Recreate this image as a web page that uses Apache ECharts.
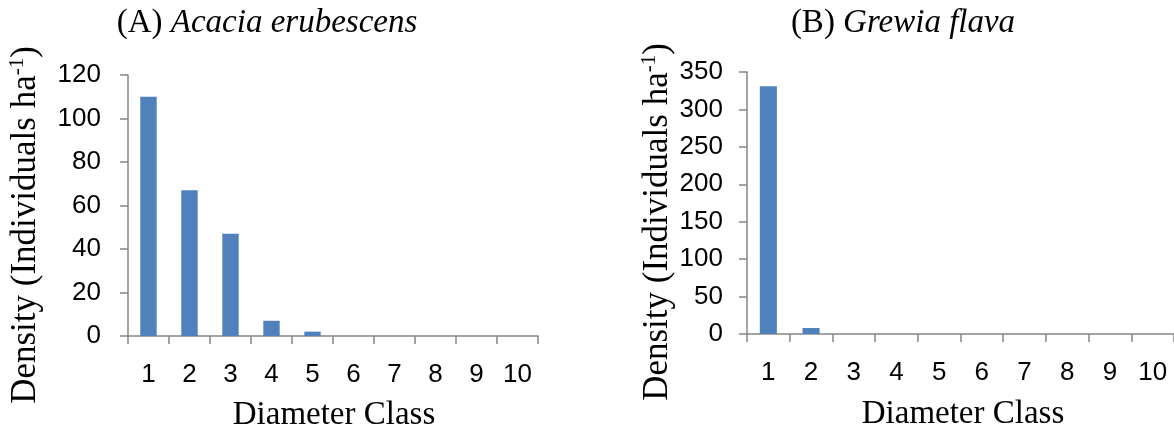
<!DOCTYPE html>
<html>
<head>
<meta charset="utf-8">
<script src="https://cdn.jsdelivr.net/npm/echarts@6/dist/echarts.min.js"></script>
<style>
html,body{margin:0;padding:0;background:#fff;}
#c{width:1174px;height:431px;}
</style>
</head>
<body>
<div id="c"></div>
<script>
const categories = ['1','2','3','4','5','6','7','8','9','10'];
const acaciaValues = [110, 67, 47, 7, 2, 0, 0, 0, 0, 0];
const grewiaValues = [331, 8, 0, 0, 0, 0, 0, 0, 0, 0];
const acaciaTicks = {min: 0, max: 120, interval: 20};
const grewiaTicks = {min: 0, max: 350, interval: 50};
const titleA = ['(A) ', 'Acacia erubescens'];
const titleB = ['(B) ', 'Grewia flava'];
const yName = ['Density (Individuals ha', '-1', ')'];
const xName = 'Diameter Class';

const serif = "'Liberation Serif', 'Times New Roman', serif";
const sans = "'Liberation Sans Narrow', 'Liberation Sans', sans-serif";
const axisGray = '#868686';
const barColor = '#4F81BD';

const chart = echarts.init(document.getElementById('c'), null, {renderer: 'canvas'});

function xAxisCfg(gridIndex) {
  return {
    type: 'category', gridIndex, data: categories, boundaryGap: true,
    axisLine: {lineStyle: {color: axisGray, width: 1.5}},
    axisTick: {show: true, length: 8, lineStyle: {color: axisGray, width: 1.5}},
    axisLabel: {color: '#000', fontFamily: sans, fontSize: 26, margin: 26, interval: 0}
  };
}
function yAxisCfg(gridIndex, t, margin) {
  return {
    type: 'value', gridIndex, min: t.min, max: t.max, interval: t.interval,
    axisLine: {show: true, lineStyle: {color: axisGray, width: 1.5}},
    axisTick: {show: true, length: 8, lineStyle: {color: axisGray, width: 1.5}},
    splitLine: {show: false},
    axisLabel: {color: '#000', fontFamily: sans, fontSize: 26, margin}
  };
}
const richSerif = {
  r: {fontFamily: serif, fontSize: 33, color: '#000'},
  i: {fontFamily: serif, fontSize: 33, fontStyle: 'italic', color: '#000'},
  y: {fontFamily: serif, fontSize: 35, color: '#000'},
  s: {fontFamily: serif, fontSize: 21, color: '#000', padding: [0, 0, 17, 0]}
};
function txt(x, y, text, rot) {
  return {
    type: 'text', x, y, rotation: rot || 0,
    style: {text, rich: richSerif, align: 'center', verticalAlign: 'middle', fill: '#000'}
  };
}
const yNameText = '{y|' + yName[0] + '}{s|' + yName[1] + '}{y|' + yName[2] + '}';

chart.setOption({
  animation: false,
  grid: [
    {left: 128, right: 636, top: 75, bottom: 95},
    {left: 747, right: -5, top: 72, bottom: 97}
  ],
  xAxis: [xAxisCfg(0), xAxisCfg(1)],
  yAxis: [yAxisCfg(0, acaciaTicks, 27), yAxisCfg(1, grewiaTicks, 24)],
  series: [
    {type: 'bar', xAxisIndex: 0, yAxisIndex: 0, data: acaciaValues, barWidth: '40%', itemStyle: {color: barColor}},
    {type: 'bar', xAxisIndex: 1, yAxisIndex: 1, data: grewiaValues, barWidth: '40%', itemStyle: {color: barColor}}
  ],
  graphic: [
    txt(267, 23, '{r|' + titleA[0] + '}{i|' + titleA[1] + '}'),
    txt(903, 23, '{r|' + titleB[0] + '}{i|' + titleB[1] + '}'),
    txt(26, 225, yNameText, Math.PI / 2),
    txt(658, 222, yNameText, Math.PI / 2),
    txt(334, 415, '{r|' + xName + '}'),
    txt(963, 414, '{r|' + xName + '}')
  ]
});
</script>
</body>
</html>
